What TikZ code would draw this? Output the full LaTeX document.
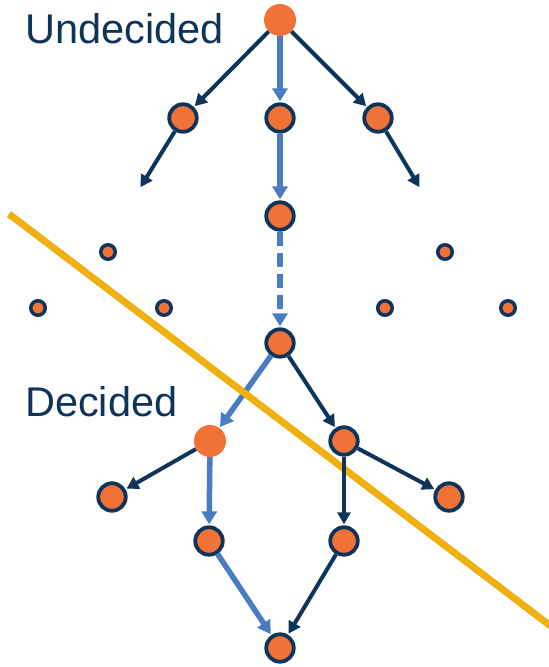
\documentclass[tikz,border=0pt]{standalone}
\usepackage{fontspec}
\setmainfont{Liberation Sans}
\usetikzlibrary{arrows.meta}
\definecolor{orng}{HTML}{F07236}
\definecolor{navy}{HTML}{0E3459}
\definecolor{blu}{HTML}{4A7CC1}
\definecolor{yel}{HTML}{F0B010}
\tikzset{
  nd/.style={circle,fill=orng,draw=navy,line width=3.8pt,minimum size=27.5pt,inner sep=0pt},
  ndf/.style={circle,fill=orng,minimum size=32pt,inner sep=0pt},
  sd/.style={circle,fill=orng,draw=navy,line width=3.5pt,minimum size=14.5pt,inner sep=0pt},
  nav/.style={draw=navy,line width=4pt,-{Triangle[length=12pt,width=13pt]},shorten >=1pt},
  bl/.style={draw=blu,line width=5.5pt,-{Triangle[length=13pt,width=15pt]},shorten >=1pt},
  lbl/.style={anchor=base west,inner sep=0pt,text=navy,font=\fontsize{41.5}{48}\selectfont},
}
\begin{document}
\begin{tikzpicture}[x=1pt,y=-1pt]
\useasboundingbox (0,0) rectangle (549,667);
% nodes
\node[ndf] (t) at (280,20) {};
\node[nd] (a1) at (183,118) {};
\node[nd] (a2) at (280,118) {};
\node[nd] (a3) at (378,118) {};
\coordinate (d1) at (140,188);
\coordinate (d3) at (420,188);
\node[nd] (m) at (280,216) {};
\node[sd] (s1) at (108,252) {};
\node[sd] (s2) at (445,252) {};
\node[sd] (s3) at (38,308) {};
\node[sd] (s4) at (164,308) {};
\node[sd] (s5) at (385,308) {};
\node[sd] (s6) at (508,308) {};
\node[nd] (c) at (280,343) {};
\node[ndf] (dl) at (210,441) {};
\node[nd] (dr) at (344,441) {};
\node[nd] (e1) at (112,497) {};
\node[nd] (e2) at (449,497) {};
\node[nd] (f1) at (209,541) {};
\node[nd] (f2) at (344,541) {};
\node[nd] (g) at (280,648) {};
% labels
\node[lbl] (u) at (25,43) {Undecided};
\node[lbl] (dd) at (25,416) {Decided};
% blue edges
\draw[bl] (t) -- (a2);
\draw[bl] (a2) -- (m);
\draw[bl,dash pattern=on 14pt off 7pt] (m) -- (c);
\draw[bl] (c) -- (dl);
\draw[bl] (dl) -- (f1);
\draw[bl] (f1) -- (g);
% yellow line
\coordinate (y1) at (9,214);
\coordinate (y2) at (552,627);
\draw[yel,line width=7pt] (y1) -- (y2);
% navy edges
\draw[nav] (t) -- (a1);
\draw[nav] (t) -- (a3);
\draw[nav] (a1) -- (d1);
\draw[nav] (a3) -- (d3);
\draw[nav] (c) -- (dr);
\draw[nav] (dl) -- (e1);
\draw[nav] (dr) -- (e2);
\draw[nav] (dr) -- (f2);
\draw[nav] (f2) -- (g);
\end{tikzpicture}
\end{document}
